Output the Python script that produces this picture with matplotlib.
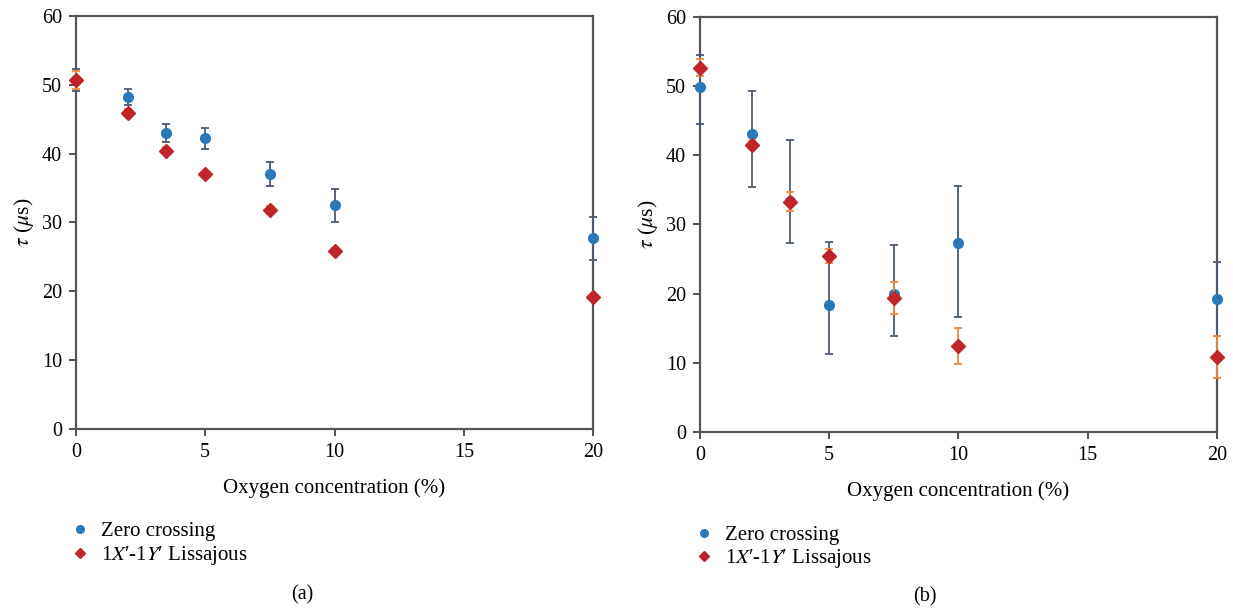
import numpy as np
import matplotlib
matplotlib.use("Agg")
import matplotlib.pyplot as plt
from matplotlib.lines import Line2D

plt.rcParams['font.family'] = ['Liberation Serif', 'DejaVu Serif']
plt.rcParams['mathtext.fontset'] = 'stix'

# oxygen concentration (%)
oxygen = [0, 2, 3.5, 5, 7.5, 10, 20]

# panel (a)
zc_a = [50.7, 48.2, 43.0, 42.2, 37.0, 32.5, 27.7]
zc_a_err = [1.6, 1.2, 1.3, 1.5, 1.7, 2.4, 3.1]
lj_a = [50.7, 45.9, 40.4, 37.0, 31.8, 25.9, 19.1]
lj_a_err = [1.3, 0.5, 0.5, 0.3, 0.6, 0.4, 0.3]

# panel (b)
zc_b = [49.9, 43.1, 33.4, 18.3, 19.9, 27.3, 19.2]
zc_b_lo = [5.4, 7.7, 6.1, 7.0, 6.0, 10.7, 5.3]
zc_b_hi = [4.6, 6.2, 8.8, 9.1, 7.2, 8.3, 5.4]
lj_b = [52.7, 41.5, 33.3, 25.5, 19.4, 12.4, 10.8]
lj_b_err = [1.2, 0.6, 1.4, 1.0, 2.3, 2.6, 3.0]

c_blue = '#2b78b8'
c_red = '#c1232b'
c_blue_err = '#4b5b73'
c_red_err = '#ec8a3c'

fig = plt.figure(figsize=(12.33, 6.10), dpi=100)
ax1 = fig.add_axes([0.0616, 0.297, 0.4194, 0.677])
ax2 = fig.add_axes([0.5677, 0.292, 0.4193, 0.680])


def panel(ax, zc, zc_err, lj, lj_err):
    ax.errorbar(oxygen, zc, yerr=zc_err, fmt='o', color=c_blue, ms=7,
                ecolor=c_blue_err, elinewidth=1.3, capsize=3, capthick=1.3,
                clip_on=False, zorder=3)
    ax.errorbar(oxygen, lj, yerr=lj_err, fmt='D', color=c_red, ms=7,
                ecolor=c_red_err, elinewidth=1.3, capsize=3, capthick=1.3,
                clip_on=False, zorder=4)
    ax.set_xlim(0, 20)
    ax.set_ylim(0, 60)
    ax.set_xticks([0, 5, 10, 15, 20])
    ax.set_yticks(range(0, 61, 10))
    for s in ax.spines.values():
        s.set_color('#555555')
        s.set_linewidth(1.6)
    ax.tick_params(direction='out', length=5, width=1.2, color='#333333',
                   labelsize=14.5, top=False, right=False, pad=5)
    ax.set_xlabel('Oxygen concentration (%)', fontsize=15, labelpad=12)
    ax.set_ylabel(r'$\tau$ ($\mu$s)', fontsize=15.5, labelpad=4)
    handles = [Line2D([], [], marker='o', ls='', color=c_blue, ms=5.5),
               Line2D([], [], marker='D', ls='', color=c_red, ms=5.5)]
    ax.legend(handles, ['Zero crossing', "1$X$\u2032-1$Y$\u2032 Lissajous"],
              loc='upper left', bbox_to_anchor=(-0.028, -0.205), frameon=False,
              fontsize=15, handlelength=1.0, handletextpad=0.5,
              labelspacing=0.12, borderaxespad=0)


panel(ax1, zc_a, zc_a_err, lj_a, lj_a_err)
panel(ax2, zc_b, [zc_b_lo, zc_b_hi], lj_b, lj_b_err)

fig.text(302 / 1233, 1 - 595 / 610, '(a)', ha='center', va='center', fontsize=14.5)
fig.text(925 / 1233, 1 - 597 / 610, '(b)', ha='center', va='center', fontsize=14.5)

fig.savefig('out.png', dpi=100)
